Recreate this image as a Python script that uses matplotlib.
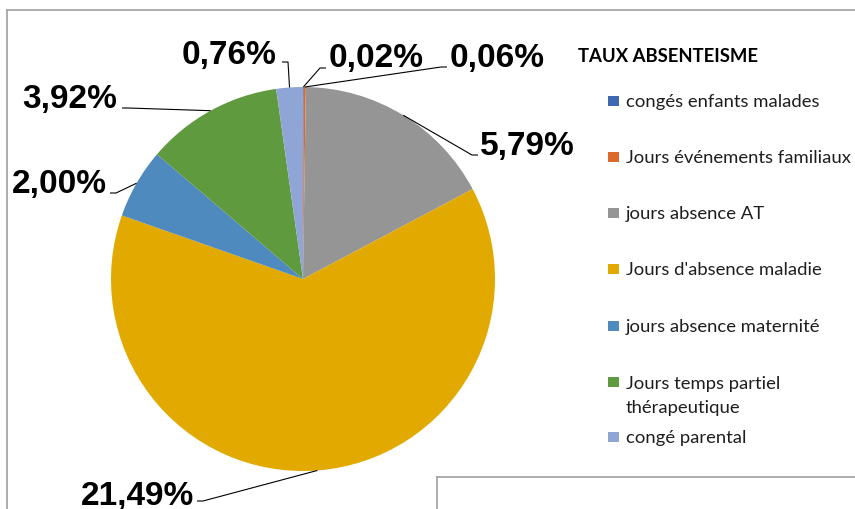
import matplotlib
matplotlib.use("Agg")
import matplotlib.pyplot as plt
from matplotlib.patches import Rectangle
from matplotlib.lines import Line2D
import numpy as np

# data
categories = ["congés enfants malades", "Jours événements familiaux", "jours absence AT",
              "Jours d'absence maladie", "jours absence maternité",
              "Jours temps partiel\nthérapeutique", "congé parental"]
values = [0.02, 0.06, 5.79, 21.49, 2.00, 3.92, 0.76]
pct_labels = ["0,02%", "0,06%", "5,79%", "21,49%", "2,00%", "3,92%", "0,76%"]
colors = ["#3F68B2", "#DB6A2C", "#959595", "#E2AA00", "#4F8ABF", "#609A3F", "#8FA5D6"]

W, H = 855, 509
CX, CY, R = 303, 279, 192

fig = plt.figure(figsize=(W / 100, H / 100), dpi=100)
ax = fig.add_axes([(CX - R) / W, (H - CY - R) / H, 2 * R / W, 2 * R / H])
wedges, _ = ax.pie(values, colors=colors, startangle=90, counterclock=False,
                   radius=1, wedgeprops=dict(linewidth=0))
ax.set_xlim(-1, 1)
ax.set_ylim(-1, 1)
ax.axis("off")


def fpt(x, y):
    return (x / W, 1 - y / H)


def to_data(x, y):
    return ((x - CX) / R, (CY - y) / R)


# label text position (center x, baseline y) and line anchor (x, y, side)
label_pos = [(376, 67), (497, 67), (527, 155), (137, 505), (59, 193), (70, 108), (229, 64)]
anchors = [(326, 68, 1), (447, 67, 1), (478, 155, 1), (197, 501, -1),
           (110, 193, -1), (122, 108, -1), (282, 62, -1)]

for w, lab, (tx, ty), (axx, ayy, side) in zip(wedges, pct_labels, label_pos, anchors):
    mid = np.deg2rad((w.theta1 + w.theta2) / 2)
    ex, ey = np.cos(mid), np.sin(mid)
    a = to_data(axx, ayy)
    elbow = to_data(axx - 6 * side, ayy)
    ax.plot([a[0], elbow[0], ex], [a[1], elbow[1], ey], color="black", lw=0.8,
            clip_on=False, solid_capstyle="butt")
    fig.text(*fpt(tx, ty), lab, ha="center", va="baseline", fontsize=24,
             fontweight="bold", family="Liberation Sans")

# legend
fig.text(*fpt(578, 62), "TAUX ABSENTEISME", ha="left", va="baseline", fontsize=13.3,
         fontweight="bold", family="Lato")
leg_y = [107, 163, 219, 275, 332, 388, 443]
for lab, col, y in zip(categories, colors, leg_y):
    fig.add_artist(Rectangle(fpt(608, y - 1), 10.5 / W, 10.5 / H, transform=fig.transFigure,
                             facecolor=col, edgecolor="none"))
    extra = 24.5 * lab.count("\n")
    fig.text(*fpt(626, y + extra), lab, ha="left", va="baseline", fontsize=13.3,
             family="Lato", color="#1E1E1E", linespacing=1.55)

# frame lines
frame_col = "#A0A0A0"
fig.add_artist(Line2D([7 / W, 1], [1 - 10 / H, 1 - 10 / H], transform=fig.transFigure,
                      color=frame_col, lw=1.2))
fig.add_artist(Line2D([7 / W, 7 / W], [0, 1 - 10 / H], transform=fig.transFigure,
                      color=frame_col, lw=1.2))
fig.add_artist(Line2D([437 / W, 1], [1 - 477 / H, 1 - 477 / H], transform=fig.transFigure,
                      color=frame_col, lw=1.2))
fig.add_artist(Line2D([437 / W, 437 / W], [0, 1 - 477 / H], transform=fig.transFigure,
                      color=frame_col, lw=1.2))

fig.savefig("out.png", dpi=100)
